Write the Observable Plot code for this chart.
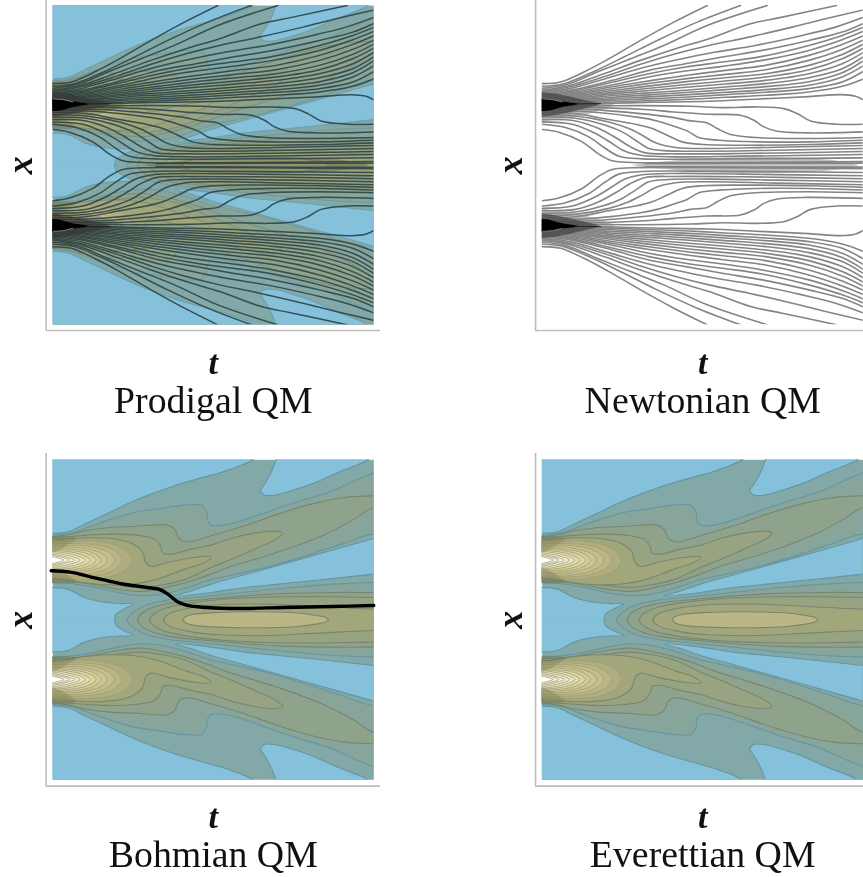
<!DOCTYPE html>
<html><head><meta charset="utf-8">
<script src="https://cdn.jsdelivr.net/npm/d3@7"></script>
<script src="https://cdn.jsdelivr.net/npm/@observablehq/plot@0.6"></script>
<style>
html,body{margin:0;padding:0;background:#fff;overflow:hidden}
#page{position:relative;width:863px;height:877px;overflow:hidden}
#page>div{position:absolute}
svg{filter:blur(0.45px);overflow:visible}
</style></head><body><div id="page"></div>
<script>
// ---------- panel titles ----------
const titles = ["Prodigal QM", "Newtonian QM", "Bohmian QM", "Everettian QM"];
const axisNames = ["t", "x"];

// ---------- colours of the contour levels ----------
const blue = "#86c1dc";
const levelColors = ["#82a9a8", "#87a59b", "#8fa38c", "#98a381", "#a2a67b"];
const ringColors = ["#b0ae80","#bab686","#c3be8c","#cbc593","#d3cc9b","#dad4a5","#e2dcb1","#e9e5c2","#f0eed6","#f5f4e4","#faf9f0","#ffffff"];

// ---------- upper half of the density contours: [t, x], x measured up from the mid line ----------
const blueTopLeft = [[-30,259],[0,259],[45,264],[95,287],[145,310],[195,334],[245,357],[295,377],[365,402],[425,420],[505,442],[535,452],[600,480],[620,505],[-30,505]];
const blueTopNotch = [[685,505],[670,480],[655,442],[635,407],[623,387],[635,374],[665,374],[715,387],[775,407],[855,442],[945,480],[965,505]];
const blueWedge = [[1000,254],[963,244],[775,191],[575,135],[475,107],[410,85],[365,72],[475,82],[575,97],[675,107],[775,117],[963,137],[1000,141]];
const blueHole = [[-30,0],[-30,97],[0,97],[45,92],[95,67],[145,54],[195,49],[245,47],[223,37],[190,17],[185,0]];

const level2 = [[-30,253],[0,254],[55,260],[105,277],[175,302],[245,322],[325,334],[395,344],[445,344],[460,327],[465,297],[475,284],[515,284],[565,297],[625,317],[725,352],[825,382],[905,417],[963,442],[1000,460],[1000,245],[963,257],[875,230],[775,197],[675,167],[575,142],[475,120],[400,95],[330,77],[265,72],[195,82],[125,98],[60,108],[0,112],[-30,112]];
const level3 = [[-30,250],[0,250],[50,256],[95,267],[170,277],[245,280],[345,284],[367,270],[380,242],[405,234],[475,252],[575,282],[675,317],[775,347],[875,367],[963,372],[1000,372],[1000,320],[963,337],[905,302],[825,260],[725,220],[625,187],[525,157],[475,137],[400,112],[330,95],[265,85],[195,92],[125,105],[60,114],[0,116],[-30,116]];
const level4 = [[-30,246],[0,246],[50,250],[105,254],[195,257],[265,252],[305,242],[323,222],[330,200],[355,197],[415,212],[475,224],[535,244],[605,260],[665,266],[690,260],[670,242],[605,212],[525,177],[475,157],[400,122],[330,105],[265,97],[195,103],[125,113],[60,120],[0,122],[-30,122]];
const level5 = [[-30,240],[0,240],[60,244],[120,246],[195,241],[245,225],[268,205],[280,170],[295,160],[345,172],[425,187],[475,189],[455,172],[395,152],[315,122],[245,108],[165,105],[95,111],[0,126],[-30,126]];

// central lobe contours
const central2 = [[1000,0],[1000,112],[963,112],[845,107],[745,99],[645,90],[545,79],[445,69],[345,59],[275,42],[240,22],[227,9],[223,0]];
const central3 = [[1000,0],[1000,82],[963,82],[845,82],[695,79],[565,71],[465,62],[365,52],[305,39],[270,22],[258,9],[255,0]];
const central4 = [[1000,0],[1000,67],[963,67],[845,69],[695,69],[545,64],[425,52],[345,37],[305,19],[294,8],[290,0]];
const central5 = [[1000,0],[1000,32],[963,32],[795,40],[645,47],[495,45],[405,34],[350,19],[336,8],[332,0]];
const central6 = [[390,0],[398,9],[420,16],[495,22],[595,24],[725,21],[790,13],[820,6],[827,0]];

// rings round the packet centre: [t, half width]
const lobeCentre = 179;
const rings = [
 [[-30,52],[40,55],[95,58],[165,51],[205,38],[228,20],[238,0]],
 [[-30,48],[40,50],[100,49],[150,42],[185,28],[203,12],[208,0]],
 [[-30,44],[40,45],[95,43],[135,36],[165,24],[181,10],[185,0]],
 [[-30,40],[35,40],[85,37],[120,30],[147,20],[160,8],[163,0]],
 [[-30,36],[30,36],[75,32],[108,26],[130,16],[142,6],[145,0]],
 [[-30,33],[25,32],[65,28],[95,22],[117,13],[127,5],[130,0]],
 [[-30,30],[20,28],[55,24],[82,18],[101,10],[110,4],[113,0]],
 [[-30,27],[15,25],[45,20],[70,14],[87,8],[95,3],[98,0]],
 [[-30,24],[10,21],[35,16],[57,11],[72,6],[80,2],[82,0]],
 [[-30,21],[5,17],[25,13],[44,8],[58,4],[64,2],[66,0]],
 [[-30,17],[0,14],[15,11],[32,7],[44,3],[49,1],[50,0]],
 [[-30,13],[-5,11],[8,8],[20,5],[30,2],[34,0]]
];
// brown crowding of contours at the left edge, above and below each packet centre
const brownAbove = [[-30,250],[0,250],[35,250],[70,244],[45,225],[20,210],[0,203],[-30,200]];
const brownBelow = [[-30,108],[0,108],[35,108],[70,114],[45,133],[20,148],[0,155],[-30,158]];

// ---------- trajectories of the upper slit: [t, depth below the panel top] ----------
const paths = [
 [[0,250],[55,245],[125,215],[195,178],[295,120],[395,65],[495,15]],
 [[0,258],[65,250],[145,218],[245,170],[345,120],[465,65],[595,15]],
 [[0,264],[75,252],[165,215],[265,175],[365,135],[495,75],[675,15]],
 [[0,270],[85,255],[185,220],[295,180],[400,145],[500,115],[625,70],[720,50],[883,15]],
 [[0,274],[90,258],[190,228],[300,190],[400,160],[500,135],[620,110],[750,80],[850,55],[965,28]],
 [[0,278],[95,262],[200,232],[310,200],[420,175],[520,155],[640,135],[780,105],[880,80],[965,50]],
 [[0,282],[100,267],[210,240],[320,210],[430,190],[540,170],[660,150],[800,120],[900,95],[965,68]],
 [[0,286],[100,271],[210,246],[320,220],[430,200],[540,185],[660,168],[800,135],[900,105],[965,80]],
 [[0,290],[100,275],[220,252],[320,230],[430,212],[540,198],[660,180],[800,150],[900,118],[965,92]],
 [[0,294],[100,279],[220,258],[330,240],[440,224],[550,210],[670,195],[800,165],[900,132],[965,105]],
 [[0,297],[100,283],[220,264],[330,248],[440,234],[550,222],[670,208],[800,180],[900,147],[965,118]],
 [[0,300],[100,287],[220,270],[330,256],[440,243],[550,232],[670,220],[800,195],[900,162],[965,130]],
 [[0,303],[100,290],[220,275],[330,263],[440,252],[550,242],[670,230],[800,208],[900,175],[965,142]],
 [[0,305],[100,294],[220,280],[330,270],[440,260],[550,251],[670,240],[800,220],[900,190],[965,155]],
 [[0,308],[100,298],[220,285],[330,277],[440,269],[550,260],[670,250],[800,232],[900,205],[965,168]],
 [[0,310],[100,301],[220,290],[330,283],[440,276],[550,268],[670,259],[800,244],[900,217],[965,180]],
 [[0,312],[100,304],[220,295],[330,289],[440,283],[550,276],[670,268],[800,255],[900,230],[965,195]],
 [[0,314],[100,307],[220,300],[330,295],[440,290],[550,283],[670,276],[800,265],[900,245],[965,212]],
 [[0,315],[100,310],[220,305],[330,301],[440,297],[550,291],[670,285],[800,275],[900,258],[965,235]],
 [[0,316],[100,313],[220,309],[330,306],[500,303],[650,296],[800,289],[895,283],[940,288],[965,300]],
 [[0,318],[150,317],[295,316],[445,318],[545,322],[645,320],[725,325],[765,340],[805,362],[885,372],[965,372]],
 [[0,322],[150,322],[295,327],[395,335],[495,342],[595,345],[635,360],[665,380],[705,393],[795,398],[965,395]],
 [[0,326],[150,328],[295,340],[395,352],[445,362],[495,368],[525,385],[565,403],[640,412],[800,415],[965,412]],
 [[0,331],[150,335],[295,352],[345,362],[395,378],[435,392],[470,412],[530,420],[650,425],[800,425],[965,420]],
 [[0,337],[100,340],[200,358],[280,372],[330,385],[375,405],[420,425],[480,433],[600,435],[800,433],[965,428]],
 [[0,343],[100,347],[200,365],[260,385],[300,405],[340,428],[400,442],[500,445],[700,441],[965,436]],
 [[0,350],[100,354],[180,372],[240,395],[280,420],[320,445],[380,452],[500,453],[700,450],[965,445]],
 [[0,358],[100,362],[170,385],[225,415],[265,440],[310,458],[400,461],[600,460],[965,454]],
 [[0,365],[90,372],[160,400],[210,430],[245,452],[300,466],[400,470],[600,468],[965,463]],
 [[0,372],[70,382],[140,410],[190,445],[230,468],[300,476],[450,477],[965,473]],
 [[0,388],[50,396],[120,425],[170,462],[210,482],[270,487],[450,488],[965,484]],
 [[310,490],[500,490],[750,489],[965,489]]
];
const midDepth = 495;
// where the trajectories crowd together: near the slit and along the mid line
const crowdHalo = [[-10,260],[30,266],[90,272],[160,290],[215,312],[160,335],[90,352],[30,360],[-10,366]];
const crowdInner = [[-10,275],[30,279],[80,288],[130,300],[170,312],[130,324],[80,336],[30,346],[-10,350]];
const crowdCore = [[-10,295],[20,296],[60,304],[108,311],[60,320],[20,331],[-10,333]];
const coreThread = [[100,311],[175,310]];
const paleThread = [[2,296],[30,298],[60,305]];
const crowdCentre = [[270,495],[330,487],[450,477],[600,471],[750,473],[880,481],[950,495]];

// the single Bohmian trajectory: [t, x]
const bohmPath = [[-5,147],[53,143],[113,129],[173,115],[223,105],[283,97],[323,90],[348,75],[373,55],[403,43],[463,37],[563,34],[693,37],[843,40],[963,43]];

// ---------- panel frame (axis lines), in data units ----------
const tDomain = [0, 963], xDomain = [-480, 480];
const axisT = -20;

const xy = {x: d => d[0], y: d => d[1]};
const mirror = p => p.map(([t, x]) => [t, -x]);
function shape(pts, fill, stroke, o = 1, fo = 1, sw = 1.1) {
  return [pts, mirror(pts)].map(p => Plot.line(p, {...xy, fill, fillOpacity: fo, stroke, strokeWidth: sw, strokeOpacity: o, curve: "catmull-rom", clip: true}));
}
function contours(o) {
  const edge = "#6795a0", inner = "#788670";
  const ringPts = r => [...r.map(([t, h]) => [t, lobeCentre + h]), ...r.slice(0, -1).reverse().map(([t, h]) => [t, lobeCentre - h])];
  return [
    Plot.frame({fill: levelColors[0]}),
    [blueTopLeft, blueTopNotch, blueWedge, blueHole].map(b => shape(b, blue, edge, o)),
    shape(level2, levelColors[1], edge, o),
    shape(central2, levelColors[1], edge, o),
    shape(level3, levelColors[2], inner, o),
    shape(central3, levelColors[2], inner, o),
    shape(level4, levelColors[3], inner, o),
    shape(central4, levelColors[3], inner, o),
    shape(level5, levelColors[4], inner, o),
    shape(central5, levelColors[4], inner, o),
    shape(central6, ringColors[1], inner, o),
    rings.map((r, i) => shape(ringPts(r), ringColors[i], "#a09d74", o, 1, 0.8)),
    shape(brownAbove, "#6d6840", "none", 0, 0.28),
    shape(brownBelow, "#6d6840", "none", 0, 0.28)
  ];
}
function trajectories(color, width, o, crowdColor, crowdOpacity) {
  const up = q => q.map(([t, d]) => [t, midDepth - d]);
  const stroke = (p, c, w, so) => [p, mirror(p)].map(l => Plot.line(l, {...xy, stroke: c, strokeWidth: w, strokeOpacity: so, curve: "catmull-rom", clip: true}));
  return [
    shape(up(crowdCentre), crowdColor, "none", 0, crowdOpacity * 0.65),
    paths.map(p => stroke(up(p), color, width, o)),
    shape(up(crowdHalo), crowdColor, "none", 0, crowdOpacity * 0.6),
    shape(up(crowdInner), "#333", "none", 0, 0.6),
    shape(up(crowdCore), "#000", "none", 0),
    stroke(up(coreThread), "#222", 1, 1),
    stroke(up(paleThread), "#888", 1, 1)
  ];
}
const serif = "'Liberation Serif', serif";
function panel({left, top, width, height, mT, mB, mL, mR, title, content, titleDy, tDy, axisTop, axisBottom, axisRight}) {
  const chart = Plot.plot({
    width, height, marginTop: mT, marginBottom: mB, marginLeft: mL, marginRight: mR,
    x: {domain: tDomain, axis: null},
    y: {domain: xDomain, axis: null},
    style: {background: "transparent"},
    marks: [
      content,
      Plot.ruleX([axisT], {y1: axisBottom, y2: axisTop, stroke: "#bdbdbd", strokeWidth: 1.6}),
      Plot.ruleY([axisBottom], {x1: axisT, x2: axisRight, stroke: "#bdbdbd", strokeWidth: 1.6}),
      Plot.text([axisNames[0]], {text: d => d, frameAnchor: "bottom", dy: tDy, fontFamily: serif, fontStyle: "italic", fontWeight: "bold", fontSize: 34, fill: "#111"}),
      Plot.text([axisNames[1]], {text: d => d, frameAnchor: "left", textAnchor: "middle", dx: -32, rotate: -90, fontFamily: serif, fontStyle: "italic", fontWeight: "bold", fontSize: 36, fill: "#111"}),
      Plot.text([title], {text: d => d, frameAnchor: "bottom", dy: titleDy, fontFamily: serif, fontSize: 37.8, fill: "#111"})
    ]
  });
  const box = document.createElement("div");
  box.style.left = left + "px"; box.style.top = top + "px";
  box.appendChild(chart);
  document.getElementById("page").appendChild(box);
}
const row1 = {top: 0, height: 430, mT: 5, mB: 105.7, titleDy: 88, tDy: 49, axisTop: 495, axisBottom: -497};
const row2 = {top: 440, height: 437, mT: 19.3, mB: 97.7, titleDy: 87, tDy: 48, axisTop: 499, axisBottom: -499};
const leftCol = {left: 0, width: 431, mL: 52.3, mR: 57.7, axisRight: 983};
const rightCol = {left: 490, width: 373, mL: 51.7, mR: 0.3, axisRight: 970};

panel({...row1, ...leftCol, title: titles[0], content: [contours(0.7), trajectories("#2f4648", 1.5, 0.92, "#3a3f30", 0.45)]});
panel({...row1, ...rightCol, title: titles[1], content: [trajectories("#848484", 1.6, 1, "#858585", 0.8)]});
panel({...row2, ...leftCol, title: titles[2], content: [contours(1), Plot.line(bohmPath, {...xy, stroke: "#000", strokeWidth: 3.4, curve: "catmull-rom"})]});
panel({...row2, ...rightCol, title: titles[3], content: [contours(1)]});
</script></body></html>
